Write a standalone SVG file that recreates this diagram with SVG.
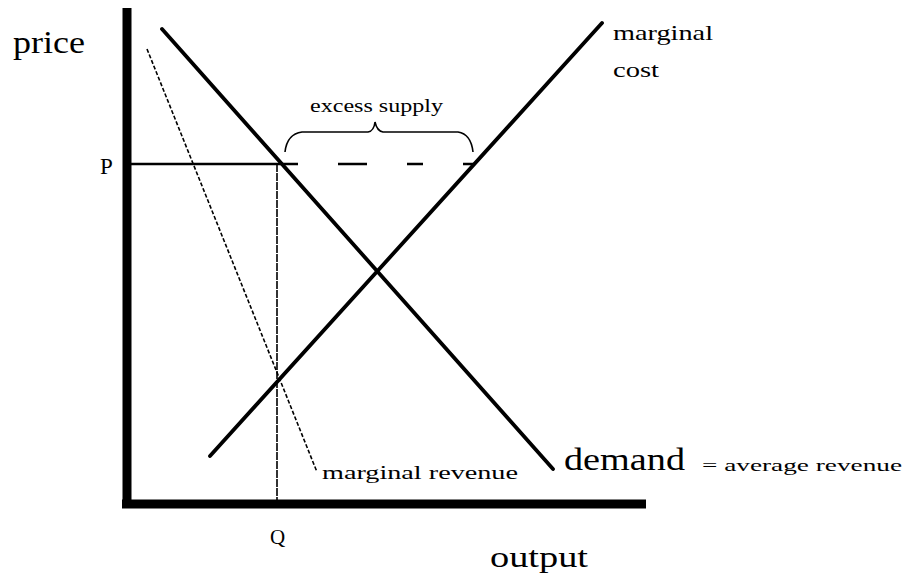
<svg xmlns="http://www.w3.org/2000/svg" width="905" height="578" viewBox="0 0 905 578">
<style>
.t{font-family:"Liberation Serif","DejaVu Serif",serif;fill:#000}
.ax{stroke:#000;stroke-width:9;fill:none}
.curve{stroke:#000;stroke-width:3.8;fill:none;stroke-linecap:round}
.thin{stroke:#000;stroke-width:1.6;fill:none}
</style>
<rect width="905" height="578" fill="#fff"/>
<g id="axes">
<line class="ax" x1="127" y1="8" x2="127" y2="508"/>
<line class="ax" x1="122" y1="504" x2="646" y2="504"/>
</g>
<g id="connectors">
<line id="demand-line" class="curve" x1="162" y1="29" x2="553" y2="469"/>
<line id="mc-line" class="curve" x1="210" y1="456" x2="602" y2="23"/>
<line id="mr-line" class="thin" x1="147" y1="49" x2="317" y2="472" stroke-dasharray="4 2"/>
<line id="p-line" stroke="#000" stroke-width="2.5" x1="131" y1="164" x2="284" y2="164"/>
<path id="p-dash" stroke="#000" stroke-width="2.5" d="M284 164H298M338 164H367M407 164H423M463 164H474"/>
<line id="q-line" class="thin" x1="277" y1="164" x2="277" y2="500" stroke-dasharray="8 1"/>
<path id="brace" class="thin" d="M285 152Q287 134 302 132L368 132Q374 131 375 122Q377 131 383 132L458 132Q471 134 473 152"/>
</g>
<g id="labels">
<text class="t" x="13" y="53" font-size="32" textLength="72" lengthAdjust="spacingAndGlyphs">price</text>
<text class="t" x="100" y="174" font-size="23">P</text>
<text class="t" x="270" y="544" font-size="21">Q</text>
<text class="t" x="490" y="567" font-size="30" textLength="98" lengthAdjust="spacingAndGlyphs">output</text>
<text class="t" x="310" y="112" font-size="18" textLength="133" lengthAdjust="spacingAndGlyphs">excess supply</text>
<text class="t" x="613" y="40" font-size="21" textLength="100" lengthAdjust="spacingAndGlyphs">marginal</text>
<text class="t" x="613" y="77" font-size="21" textLength="46" lengthAdjust="spacingAndGlyphs">cost</text>
<text class="t" x="322" y="479" font-size="19" textLength="196" lengthAdjust="spacingAndGlyphs">marginal revenue</text>
<text class="t" x="564" y="470" font-size="32" textLength="121" lengthAdjust="spacingAndGlyphs">demand</text>
<text class="t" x="702" y="471" font-size="17" textLength="200" lengthAdjust="spacingAndGlyphs">= average revenue</text>
</g>
</svg>
